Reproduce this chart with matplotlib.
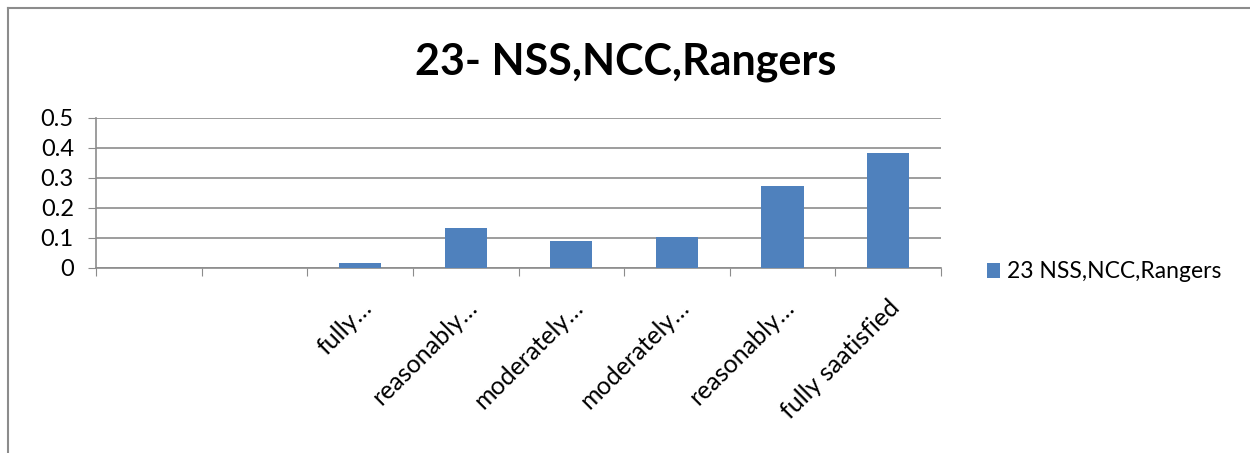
import numpy as np
import matplotlib
matplotlib.use("Agg")
import matplotlib.pyplot as plt
from matplotlib.lines import Line2D

plt.rcParams['font.family'] = ['Lato', 'DejaVu Sans']

# data
categories = ["", "", "fully\u2026", "reasonably\u2026", "moderately\u2026",
              "moderately\u2026", "reasonably\u2026", "fully saatisfied"]
values = [0, 0, 0.017, 0.133, 0.089, 0.102, 0.272, 0.385]
series_name = "23 NSS,NCC,Rangers"
title = "23- NSS,NCC,Rangers"
yticks = [0, 0.1, 0.2, 0.3, 0.4, 0.5]

W, H = 1250, 453
fig = plt.figure(figsize=(W / 100, H / 100), dpi=100)

# outer chart border: only top and left show in the source
border = dict(transform=fig.transFigure, color="#8c8c8c", linewidth=1.5)
fig.lines.append(Line2D([8 / W, 1], [1 - 8 / H, 1 - 8 / H], **border))
fig.lines.append(Line2D([8 / W, 8 / W], [0, 1 - 8 / H], **border))

ax = fig.add_axes([96 / W, 1 - 268 / H, (941 - 96) / W, (268 - 118) / H])

x = np.arange(len(categories))
bars = ax.bar(x, values, width=0.4, color="#4f81bd", label=series_name, zorder=3)

ax.set_xlim(-0.5, len(categories) - 0.5)
ax.set_ylim(0, 0.5)
ax.set_yticks(yticks)
ax.set_yticklabels(["0" if v == 0 else f"{v:g}" for v in yticks], fontsize=17)
ax.yaxis.grid(True, color="#8c8c8c", linewidth=1.2, zorder=0)
ax.tick_params(axis="y", length=6, color="#8c8c8c", pad=10)

# x ticks at category boundaries, labels at centers
ax.set_xticks(np.arange(len(categories) + 1) - 0.5)
ax.set_xticklabels([])
ax.tick_params(axis="x", which="major", length=6, color="#8c8c8c", direction="out")
ax.set_xticks(x, minor=True)
ax.set_xticklabels(categories, minor=True, rotation=45, ha="right",
                   rotation_mode="anchor", fontsize=18)
ax.tick_params(axis="x", which="minor", length=0, pad=20)

for s in ["top", "right"]:
    ax.spines[s].set_visible(False)
ax.spines["left"].set_color("#8c8c8c")
ax.spines["bottom"].set_color("#8c8c8c")
ax.spines["left"].set_linewidth(1.2)
ax.spines["bottom"].set_linewidth(1.2)

fig.text(626 / W, 1 - 62 / H, title, ha="center", va="center",
         fontsize=31, fontweight="bold")

fig.legend(handles=[bars], labels=[series_name], loc="center left",
           bbox_to_anchor=(966 / W, 1 - 272 / H), frameon=False, fontsize=16.5,
           handlelength=0.6, handleheight=0.6, handletextpad=0.3)

fig.savefig("out.png", dpi=100)
